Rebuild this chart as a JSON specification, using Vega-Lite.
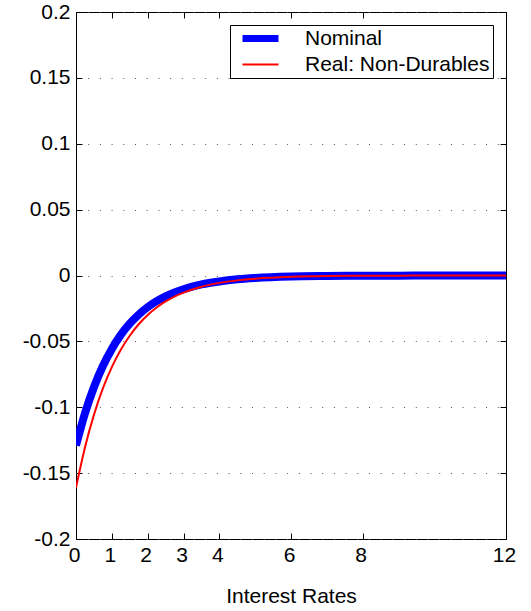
{
  "$schema": "https://vega.github.io/schema/vega-lite/v6.json",
  "width": 430,
  "height": 527,
  "autosize": {"type": "none"},
  "padding": {"left": 76, "top": 12, "right": 25, "bottom": 72},
  "background": "white",
  "config": {
    "font": "Liberation Sans",
    "view": {"stroke": "black", "strokeWidth": 1},
    "axis": {
      "labelFont": "Liberation Sans",
      "labelFontSize": 21,
      "labelColor": "black",
      "labelFlush": false,
      "tickColor": "black",
      "tickSize": -6,
      "domain": false,
      "titleFont": "Liberation Sans",
      "titleFontSize": 21,
      "titleFontWeight": "normal",
      "titleColor": "black"
    },
    "legend": {
      "labelFont": "Liberation Sans",
      "labelFontSize": 21,
      "labelColor": "black",
      "labelLimit": 400
    }
  },
  "data": {
    "values": [
      {"x": 0, "y": -0.129, "series": "Nominal"},
      {"x": 0.25, "y": -0.1046, "series": "Nominal"},
      {"x": 0.5, "y": -0.0848, "series": "Nominal"},
      {"x": 0.75, "y": -0.0687, "series": "Nominal"},
      {"x": 1, "y": -0.0557, "series": "Nominal"},
      {"x": 1.25, "y": -0.0451, "series": "Nominal"},
      {"x": 1.5, "y": -0.0366, "series": "Nominal"},
      {"x": 1.75, "y": -0.0297, "series": "Nominal"},
      {"x": 2, "y": -0.024, "series": "Nominal"},
      {"x": 2.25, "y": -0.0195, "series": "Nominal"},
      {"x": 2.5, "y": -0.0158, "series": "Nominal"},
      {"x": 2.75, "y": -0.0128, "series": "Nominal"},
      {"x": 3, "y": -0.0104, "series": "Nominal"},
      {"x": 3.5, "y": -0.0068, "series": "Nominal"},
      {"x": 4, "y": -0.0045, "series": "Nominal"},
      {"x": 4.5, "y": -0.0029, "series": "Nominal"},
      {"x": 5, "y": -0.0019, "series": "Nominal"},
      {"x": 6, "y": -0.0008, "series": "Nominal"},
      {"x": 7, "y": -0.0004, "series": "Nominal"},
      {"x": 8, "y": -0.0002, "series": "Nominal"},
      {"x": 9, "y": -0.0001, "series": "Nominal"},
      {"x": 10, "y": 0, "series": "Nominal"},
      {"x": 12, "y": 0, "series": "Nominal"},
      {"x": 0, "y": -0.161, "series": "Real: Non-Durables"},
      {"x": 0.25, "y": -0.1305, "series": "Real: Non-Durables"},
      {"x": 0.5, "y": -0.1058, "series": "Real: Non-Durables"},
      {"x": 0.75, "y": -0.0857, "series": "Real: Non-Durables"},
      {"x": 1, "y": -0.0695, "series": "Real: Non-Durables"},
      {"x": 1.25, "y": -0.0563, "series": "Real: Non-Durables"},
      {"x": 1.5, "y": -0.0457, "series": "Real: Non-Durables"},
      {"x": 1.75, "y": -0.037, "series": "Real: Non-Durables"},
      {"x": 2, "y": -0.03, "series": "Real: Non-Durables"},
      {"x": 2.25, "y": -0.0243, "series": "Real: Non-Durables"},
      {"x": 2.5, "y": -0.0197, "series": "Real: Non-Durables"},
      {"x": 2.75, "y": -0.016, "series": "Real: Non-Durables"},
      {"x": 3, "y": -0.013, "series": "Real: Non-Durables"},
      {"x": 3.5, "y": -0.0085, "series": "Real: Non-Durables"},
      {"x": 4, "y": -0.0056, "series": "Real: Non-Durables"},
      {"x": 4.5, "y": -0.0037, "series": "Real: Non-Durables"},
      {"x": 5, "y": -0.0024, "series": "Real: Non-Durables"},
      {"x": 6, "y": -0.001, "series": "Real: Non-Durables"},
      {"x": 7, "y": -0.0004, "series": "Real: Non-Durables"},
      {"x": 8, "y": -0.0002, "series": "Real: Non-Durables"},
      {"x": 9, "y": -0.0001, "series": "Real: Non-Durables"},
      {"x": 10, "y": 0, "series": "Real: Non-Durables"},
      {"x": 12, "y": 0, "series": "Real: Non-Durables"}
    ]
  },
  "layer": [
    {
      "transform": [{"filter": "datum.series === 'Nominal'"}],
      "mark": {"type": "line", "clip": true, "interpolate": "monotone", "strokeWidth": 8, "strokeCap": "butt"},
      "encoding": {
        "x": {
          "field": "x", "type": "quantitative",
          "scale": {"domain": [0, 12], "nice": false, "zero": false},
          "axis": {
            "orient": "bottom",
            "values": [0, 1, 2, 3, 4, 6, 8, 12],
            "grid": false,
            "labelPadding": 11,
            "labelOffset": -2,
            "format": "d",
            "title": "Interest Rates",
            "titlePadding": 20
          }
        },
        "y": {
          "field": "y", "type": "quantitative",
          "scale": {"domain": [-0.2, 0.2], "nice": false, "zero": false},
          "axis": {
            "orient": "left",
            "values": [-0.2, -0.15, -0.1, -0.05, 0, 0.05, 0.1, 0.15, 0.2],
            "labelExpr": "datum.value === 0 ? '0' : (datum.value < 0 ? '-' : '') + format(abs(datum.value), '~g')",
            "labelPadding": 12,
            "grid": true,
            "gridColor": "#555555",
            "gridDash": [1, 10.7],
            "gridWidth": 1,
            "title": null
          }
        },
        "color": {
          "field": "series", "type": "nominal",
          "scale": {"domain": ["Nominal", "Real: Non-Durables"], "range": ["#0000ff", "#ff0000"]},
          "legend": {
            "title": null,
            "orient": "top-right",
            "offset": 13,
            "strokeColor": "black",
            "fillColor": "white",
            "padding": 3,
            "symbolType": "stroke",
            "symbolSize": 1296,
            "symbolStrokeWidth": 2,
            "symbolOffset": 17,
            "labelOffset": 34,
            "rowPadding": 0,
            "encode": {
              "symbols": {
                "update": {
                  "strokeWidth": {"signal": "datum.value === 'Nominal' ? 7 : 2"}
                }
              }
            }
          }
        }
      }
    },
    {
      "transform": [{"filter": "datum.series === 'Real: Non-Durables'"}],
      "mark": {"type": "line", "clip": true, "interpolate": "monotone", "strokeWidth": 2},
      "encoding": {
        "x": {
          "field": "x", "type": "quantitative",
          "axis": {
            "orient": "top",
            "values": [0, 1, 2, 3, 4, 6, 8, 12],
            "labels": false,
            "grid": false,
            "title": null
          }
        },
        "y": {
          "field": "y", "type": "quantitative",
          "axis": {
            "orient": "right",
            "values": [-0.2, -0.15, -0.1, -0.05, 0, 0.05, 0.1, 0.15, 0.2],
            "labels": false,
            "grid": false,
            "title": null
          }
        },
        "color": {"field": "series", "type": "nominal"}
      }
    }
  ],
  "resolve": {"axis": {"x": "independent", "y": "independent"}}
}
